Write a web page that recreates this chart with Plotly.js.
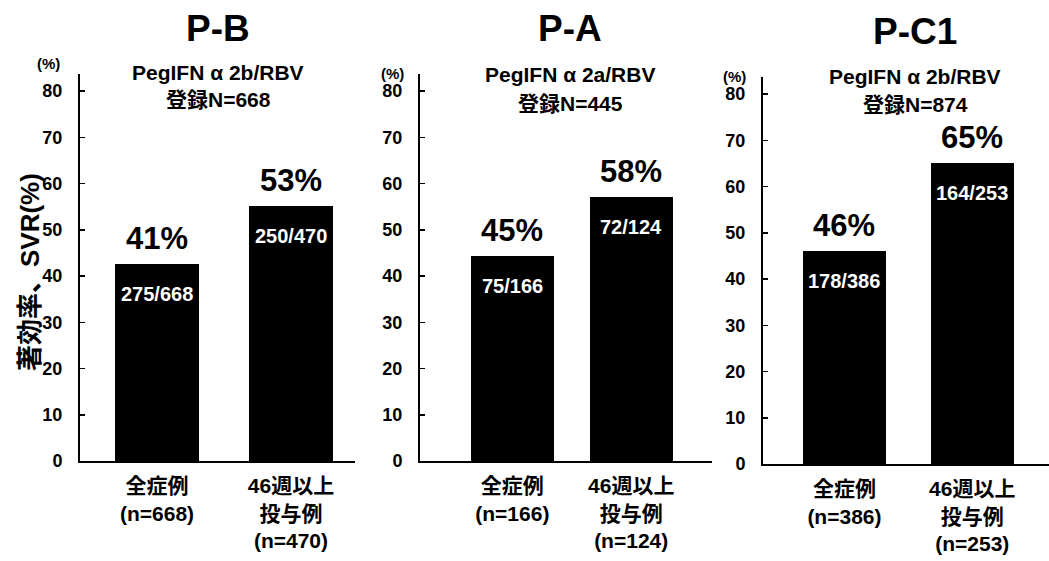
<!DOCTYPE html>
<html>
<head>
<meta charset="utf-8">
<script src="https://cdn.plot.ly/plotly-3.0.1.min.js"></script>
<style>html,body{margin:0;padding:0;background:#fff;}#chart{width:1049px;height:561px;}</style>
</head>
<body>
<div id="chart"></div>
<script>
// ---- data ----
const panelTitles = ['P-B', 'P-A', 'P-C1'];
const regimens = ['PegIFN α 2b/RBV', 'PegIFN α 2a/RBV', 'PegIFN α 2b/RBV'];
const enrolled = ['登録N=668', '登録N=445', '登録N=874'];
const catsPB = ['全症例<br>(n=668)', '46週以上<br>投与例<br>(n=470)'];
const catsPA = ['全症例<br>(n=166)', '46週以上<br>投与例<br>(n=124)'];
const catsPC1 = ['全症例<br>(n=386)', '46週以上<br>投与例<br>(n=253)'];
const svrPB = [42.5, 55.2];
const svrPA = [44.4, 57.1];
const svrPC1 = [46.0, 65.1];
const pctPB = ['41%', '53%'];
const pctPA = ['45%', '58%'];
const pctPC1 = ['46%', '65%'];
const ratioPB = ['275/668', '250/470'];
const ratioPA = ['75/166', '72/124'];
const ratioPC1 = ['178/386', '164/253'];
const yTicks = [0, 10, 20, 30, 40, 50, 60, 70, 80];
const yTitle = '著効率、SVR(%)';
const unitLabel = '(%)';

// ---- layout helpers ----
const W = 1049, H = 561;
const FONT = 'Arial, "Liberation Sans", "Noto Sans CJK JP", sans-serif';
const px = v => v / W;
const py = v => 1 - v / H;

const cats = [catsPB, catsPA, catsPC1];
const vals = [svrPB, svrPA, svrPC1];
const pcts = [pctPB, pctPA, pctPC1];
const ratios = [ratioPB, ratioPA, ratioPC1];

const geom = [
  {xd: [80, 355], yd: [461, 74], xr: [-0.575, 1.478], bw: 0.63, tx: 218, ty: 28, sy: 72, unit: [48, 63]},
  {xd: [420, 712], yd: [461, 74], xr: [-0.777, 1.68], bw: 0.70, tx: 570, ty: 28, sy: 75, unit: [392, 74]},
  {xd: [763, 1049], yd: [464, 77], xr: [-0.637, 1.6], bw: 0.65, tx: 915, ty: 32, sy: 77, unit: [734, 76]}
];

const traces = [];
const layout = {
  width: W, height: H,
  margin: {l: 0, r: 0, t: 0, b: 0},
  paper_bgcolor: '#fff', plot_bgcolor: '#fff',
  showlegend: false,
  font: {family: FONT, color: '#000', weight: 'bold'},
  annotations: [],
  bargap: 0
};

for (let i = 0; i < 3; i++) {
  const g = geom[i];
  const sfx = i === 0 ? '' : String(i + 1);
  traces.push({
    type: 'bar', x: cats[i], y: vals[i],
    xaxis: 'x' + sfx, yaxis: 'y' + sfx,
    marker: {color: '#000', line: {width: 0}},
    width: g.bw, hoverinfo: 'skip'
  });
  layout['xaxis' + sfx] = {
    domain: [px(g.xd[0]), px(g.xd[1])],
    anchor: 'y' + sfx, type: 'category', range: g.xr,
    showline: true, linecolor: '#000', linewidth: 2,
    ticks: '', showgrid: false, zeroline: false,
    tickfont: {size: 21, family: FONT, weight: 'bold'},
    ticklabelstandoff: 5, fixedrange: true
  };
  layout['yaxis' + sfx] = {
    domain: [py(g.yd[0]), py(g.yd[1])],
    anchor: 'x' + sfx, range: [0, 83.7],
    tickvals: yTicks, ticktext: yTicks.map(String),
    showline: true, linecolor: '#000', linewidth: 2,
    ticks: 'inside', ticklen: 5, tickwidth: 1.5, tickcolor: '#000',
    showgrid: false, zeroline: false,
    tickfont: {size: 18, family: FONT, weight: 'bold'},
    ticklabelstandoff: 12, fixedrange: true
  };
  // panel title
  layout.annotations.push({xref: 'paper', yref: 'paper', x: px(g.tx), y: py(g.ty),
    text: panelTitles[i], showarrow: false, xanchor: 'center', yanchor: 'middle',
    font: {size: 37, family: FONT, weight: 'bold'}});
  // regimen + enrolled
  layout.annotations.push({xref: 'paper', yref: 'paper', x: px(g.tx), y: py(g.sy),
    text: regimens[i], showarrow: false, xanchor: 'center', yanchor: 'middle',
    font: {size: 21, family: FONT, weight: 'bold'}});
  layout.annotations.push({xref: 'paper', yref: 'paper', x: px(g.tx), y: py(g.sy + 28),
    text: enrolled[i], showarrow: false, xanchor: 'center', yanchor: 'middle',
    font: {size: 21, family: FONT, weight: 'bold'}});
  // unit
  layout.annotations.push({xref: 'paper', yref: 'paper', x: px(g.unit[0]), y: py(g.unit[1]),
    text: unitLabel, showarrow: false, xanchor: 'center', yanchor: 'middle',
    font: {size: 15, family: FONT, weight: 'bold'}});
  for (let j = 0; j < 2; j++) {
    layout.annotations.push({xref: 'x' + sfx, yref: 'y' + sfx, x: cats[i][j], y: vals[i][j],
      text: pcts[i][j], showarrow: false, xanchor: 'center', yanchor: 'bottom', yshift: 6,
      font: {size: 31, family: FONT, weight: 'bold'}});
    layout.annotations.push({xref: 'x' + sfx, yref: 'y' + sfx, x: cats[i][j], y: vals[i][j],
      text: ratios[i][j], showarrow: false, xanchor: 'center', yanchor: 'top', yshift: -17,
      font: {size: 20, family: FONT, weight: 'bold', color: '#fff'}});
  }
}
// y-axis title
layout.annotations.push({xref: 'paper', yref: 'paper', x: px(30), y: py(272),
  text: yTitle, showarrow: false, textangle: -90, xanchor: 'center', yanchor: 'middle',
  font: {size: 26, family: FONT, weight: 'bold'}});

Plotly.newPlot('chart', traces, layout, {staticPlot: true, displayModeBar: false});
</script>
</body>
</html>
